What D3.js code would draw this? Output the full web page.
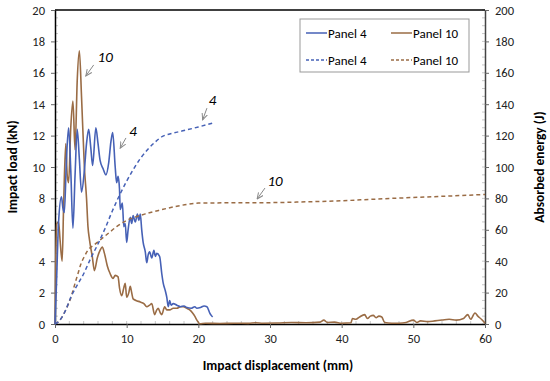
<!DOCTYPE html>
<html>
<head>
<meta charset="utf-8">
<script src="https://cdn.jsdelivr.net/npm/d3@7"></script>
<style>
  body { margin: 0; background: #fff; }
  svg text { font-family: Carlito, Lato, "Open Sans", sans-serif; }
</style>
</head>
<body>
<div id="viz"></div>
<script>
// Impact load (kN) vs displacement (mm)
var load4 = [[0,0],[0.2,2.5],[0.5,6.5],[0.9,8.1],[1.1,7.4],[1.3,7.1],[1.6,10.5],[1.9,12.5],[2.2,9.8],[2.5,6.1],[2.8,9.5],[3.1,12.4],[3.4,10.5],[3.7,8.4],[4.1,9.8],[4.4,11.5],[4.7,12.4],[5.0,11.2],[5.25,10.1],[5.7,12.5],[6.0,11.5],[6.3,10.4],[6.7,9.9],[7.1,9.5],[7.5,10.3],[7.8,11.6],[8.05,12.2],[8.4,10.0],[8.6,9.0],[8.8,9.4],[9.0,8.6],[9.1,7.3],[9.4,7.7],[9.6,6.2],[9.8,6.4],[10.0,5.2],[10.2,6.0],[10.5,6.8],[10.7,6.4],[10.9,6.9],[11.2,6.5],[11.5,7.0],[11.7,6.6],[11.9,7.0],[12.1,6.0],[12.3,5.2],[12.6,4.6],[12.8,3.9],[13.0,4.4],[13.2,4.6],[13.5,4.2],[13.8,4.7],[14.0,4.3],[14.2,4.5],[14.6,4.3],[14.9,3.2],[15.1,2.6],[15.4,2.1],[15.6,1.7],[15.8,1.1],[16.0,1.5],[16.2,1.2],[16.5,1.3],[17.0,1.2],[17.5,1.1],[18.0,1.15],[18.4,1.05],[19.0,1.0],[19.5,1.1],[19.8,1.0],[20.3,1.05],[20.8,1.15],[21.2,1.1],[21.6,0.7],[21.8,0.55],[22.0,0.45]];

var load10 = [[0,0],[0.1,4],[0.25,6.4],[0.5,6.5],[0.7,5.4],[1.0,4.0],[1.2,7.5],[1.5,11.5],[1.7,9.5],[1.9,9.0],[2.2,12.5],[2.5,14.2],[2.8,11.1],[3.1,15.5],[3.4,17.4],[3.7,14.5],[4.1,10],[4.4,8.0],[4.6,6.2],[4.8,5.4],[5.2,4.3],[5.5,3.4],[5.9,4.2],[6.3,4.7],[6.6,4.9],[6.9,4.5],[7.3,3.7],[7.7,3.2],[8.1,2.9],[8.4,3.1],[8.8,3.0],[9.0,2.3],[9.3,1.8],[9.6,2.3],[9.8,2.6],[10.0,1.7],[10.3,2.0],[10.5,2.4],[10.7,2.0],[10.9,1.6],[11.3,1.5],[11.9,1.4],[12.4,1.3],[12.8,1.1],[13.2,1.2],[13.5,1.3],[13.9,0.6],[14.2,0.9],[14.4,1.0],[14.7,0.7],[14.9,0.6],[15.3,1.1],[15.6,0.9],[16.0,0.9],[16.5,1.0],[17.0,1.0],[17.5,1.1],[17.9,1.1],[18.4,1.0],[18.8,0.9],[19.2,0.7],[19.5,0.5],[19.8,0.25],[20.2,0.02],[21,0.05],[23,0.03],[25,0.05],[27,0.04],[28,0.08],[29,0.05],[31,0.06],[33,0.1],[35,0.08],[37,0.12],[37.5,0.25],[38,0.1],[39,0.12],[40,0.05],[41.3,0.08],[41.5,0.35],[42,0.3],[42.5,0.45],[43.2,0.6],[43.6,0.35],[44,0.5],[44.4,0.55],[44.8,0.4],[45.2,0.5],[45.6,0.45],[46,0.1],[47,0.05],[48,0.05],[49,0.1],[50,0.25],[50.5,0.1],[51,0.2],[52,0.15],[53,0.2],[54,0.25],[55,0.3],[56,0.25],[57,0.35],[57.6,0.6],[58,0.3],[58.6,0.7],[59,0.5],[59.5,0.3],[60,0.05]];

// Absorbed energy (J) vs displacement (mm)
var energy4 = [[0,0],[0.5,1.5],[1,4.5],[1.5,9],[2.3,18],[3,24],[4,32],[5,42],[6,51],[7,61],[8,72],[9,82],[10,91],[11,99],[12,106],[13,111.5],[14,116],[15,119.5],[16,121],[18,123.2],[20,125.5],[22,128]];

var energy10 = [[0,0],[0.5,1.5],[1,4.5],[1.5,9],[2.3,18],[2.8,26],[3.2,32],[3.6,38],[4.1,43],[4.6,47],[5.5,50.5],[6.3,53.5],[7.5,58],[8.6,62],[10,66],[11,67.8],[12.5,70],[14.6,72.5],[17,75],[20,77],[25,77.2],[30,77.3],[35,77.8],[40,78.5],[45,79.6],[50,80.6],[55,81.5],[60,82.5]];

var xTicks = [0,10,20,30,40,50,60];
var yTicks = [0,2,4,6,8,10,12,14,16,18,20];
var y2Ticks = [0,20,40,60,80,100,120,140,160,180,200];

var blue = "#4661b6", brown = "#9a6c45";

var margin = {top: 10, right: 65, bottom: 57, left: 55},
    width = 550 - margin.left - margin.right,
    height = 381 - margin.top - margin.bottom;

var svg = d3.select("#viz")
  .append("svg")
    .attr("width", 550)
    .attr("height", 381)
  .append("g")
    .attr("transform", "translate(" + margin.left + "," + margin.top + ")");

var x = d3.scaleLinear().domain([0, 60]).range([0, width]);
var y = d3.scaleLinear().domain([0, 20]).range([height, 0]);
var y2 = d3.scaleLinear().domain([0, 200]).range([height, 0]);

// minor ticks inside the plot
svg.append("g").selectAll("line")
  .data(d3.range(0, 20.01, 0.5))
  .enter().append("line")
    .attr("x1", 0).attr("x2", 3)
    .attr("y1", d => y(d)).attr("y2", d => y(d))
    .attr("stroke", "#bbb").attr("stroke-width", 0.8);
svg.append("g").selectAll("line")
  .data(d3.range(0, 200.1, 5))
  .enter().append("line")
    .attr("x1", width - 3).attr("x2", width)
    .attr("y1", d => y2(d)).attr("y2", d => y2(d))
    .attr("stroke", "#bbb").attr("stroke-width", 0.8);
svg.append("g").selectAll("line")
  .data(d3.range(0, 60.1, 2))
  .enter().append("line")
    .attr("x1", d => x(d)).attr("x2", d => x(d))
    .attr("y1", height - 3).attr("y2", height)
    .attr("stroke", "#bbb").attr("stroke-width", 0.8);

// axes
function styleAxis(g) {
  g.selectAll("text").style("font-size", "12.5px").attr("fill", "#222");
  g.selectAll(".tick line").attr("stroke", "#666");
}

svg.append("g")
  .attr("transform", "translate(0," + height + ")")
  .call(d3.axisBottom(x).tickValues(xTicks).tickSize(4).tickPadding(6).tickSizeOuter(0))
  .call(styleAxis)
  .call(g => g.select(".domain").attr("stroke", "#000").attr("stroke-width", 1.5));

svg.append("g")
  .call(d3.axisLeft(y).tickValues(yTicks).tickSize(4).tickPadding(6).tickSizeOuter(0))
  .call(styleAxis)
  .call(g => g.select(".domain").attr("stroke", "#000").attr("stroke-width", 1.5));

svg.append("g")
  .attr("transform", "translate(" + width + ",0)")
  .call(d3.axisRight(y2).tickValues(y2Ticks).tickSize(4).tickPadding(6).tickSizeOuter(0))
  .call(styleAxis)
  .call(g => g.select(".domain").attr("stroke", "#444").attr("stroke-width", 1.5));

// top border
svg.append("line")
  .attr("x1", 0).attr("x2", width).attr("y1", 0).attr("y2", 0)
  .attr("stroke", "#000").attr("stroke-width", 1.5);

// axis titles
svg.append("text")
  .attr("text-anchor", "middle")
  .attr("x", width / 2 + 8)
  .attr("y", height + 46)
  .style("font-weight", "bold")
  .style("font-size", "13.5px")
  .text("Impact displacement (mm)");

svg.append("text")
  .attr("text-anchor", "middle")
  .attr("transform", "rotate(-90)")
  .attr("x", -height / 2)
  .attr("y", -margin.left + 17)
  .style("font-weight", "bold")
  .style("font-size", "13.5px")
  .text("Impact load (kN)");

svg.append("text")
  .attr("text-anchor", "middle")
  .attr("transform", "rotate(-90)")
  .attr("x", -height / 2)
  .attr("y", width + 59)
  .style("font-weight", "bold")
  .style("font-size", "13.5px")
  .text("Absorbed energy (J)");

// lines
var line = d3.line().x(d => x(d[0])).y(d => y(d[1])).curve(d3.curveMonotoneX);
var line2 = d3.line().x(d => x(d[0])).y(d => y2(d[1])).curve(d3.curveMonotoneX);

svg.append("path").datum(load10)
  .attr("d", line).attr("fill", "none")
  .attr("stroke", brown).attr("stroke-width", 1.6);
svg.append("path").datum(load4)
  .attr("d", line).attr("fill", "none")
  .attr("stroke", blue).attr("stroke-width", 1.6);
svg.append("path").datum(energy10)
  .attr("d", line2).attr("fill", "none")
  .attr("stroke", brown).attr("stroke-width", 1.5).attr("stroke-dasharray", "4,3");
svg.append("path").datum(energy4)
  .attr("d", line2).attr("fill", "none")
  .attr("stroke", blue).attr("stroke-width", 1.5).attr("stroke-dasharray", "4,3");

// annotations: label + arrow
svg.append("defs").append("marker")
  .attr("id", "arr").attr("viewBox", "0 0 10 10")
  .attr("refX", 9).attr("refY", 5)
  .attr("markerWidth", 7).attr("markerHeight", 7)
  .attr("orient", "auto")
  .append("path").attr("d", "M0,1 L9,5 L0,9").attr("fill", "none")
  .attr("stroke", "#888").attr("stroke-width", 1.4);

var notes = [
  {t: "10", lx: 7.0, ly: 17.0, ax1: 5.4, ay1: 16.5, ax2: 4.3, ay2: 15.8},
  {t: "4",  lx: 10.9, ly: 12.3, ax1: 9.9, ay1: 11.85, ax2: 9.1, ay2: 11.2},
  {t: "4",  lx: 22.0, ly: 14.3, ax1: 21.2, ay1: 13.75, ax2: 20.6, ay2: 13.0},
  {t: "10", lx: 30.7, ly: 9.1, ax1: 29.3, ay1: 8.66, ax2: 28.2, ay2: 7.96}
];
notes.forEach(function(n) {
  svg.append("text")
    .attr("x", x(n.lx)).attr("y", y(n.ly))
    .attr("dy", "0.35em")
    .attr("text-anchor", "middle")
    .style("font-style", "italic")
    .style("font-size", "15px")
    .text(n.t);
  svg.append("line")
    .attr("x1", x(n.ax1)).attr("y1", y(n.ay1))
    .attr("x2", x(n.ax2)).attr("y2", y(n.ay2))
    .attr("stroke", "#888").attr("stroke-width", 1)
    .attr("marker-end", "url(#arr)");
});

// legend
var lg = svg.append("g").attr("transform", "translate(" + (300 - margin.left) + "," + (19 - margin.top) + ")");
lg.append("rect").attr("width", 169).attr("height", 53)
  .attr("fill", "#fff").attr("stroke", "#999").attr("stroke-width", 1);
var items = [
  {c: blue, dash: null, t: "Panel 4", x: 6, y: 14},
  {c: brown, dash: null, t: "Panel 10", x: 91, y: 14},
  {c: blue, dash: "3,2", t: "Panel 4", x: 6, y: 41},
  {c: brown, dash: "3,2", t: "Panel 10", x: 91, y: 41}
];
items.forEach(function(it) {
  lg.append("line")
    .attr("x1", it.x).attr("x2", it.x + 21)
    .attr("y1", it.y).attr("y2", it.y)
    .attr("stroke", it.c).attr("stroke-width", 1.5)
    .attr("stroke-dasharray", it.dash);
  lg.append("text")
    .attr("x", it.x + 22).attr("y", it.y)
    .attr("dy", "0.35em")
    .style("font-size", "13px")
    .text(it.t);
});
</script>
</body>
</html>
